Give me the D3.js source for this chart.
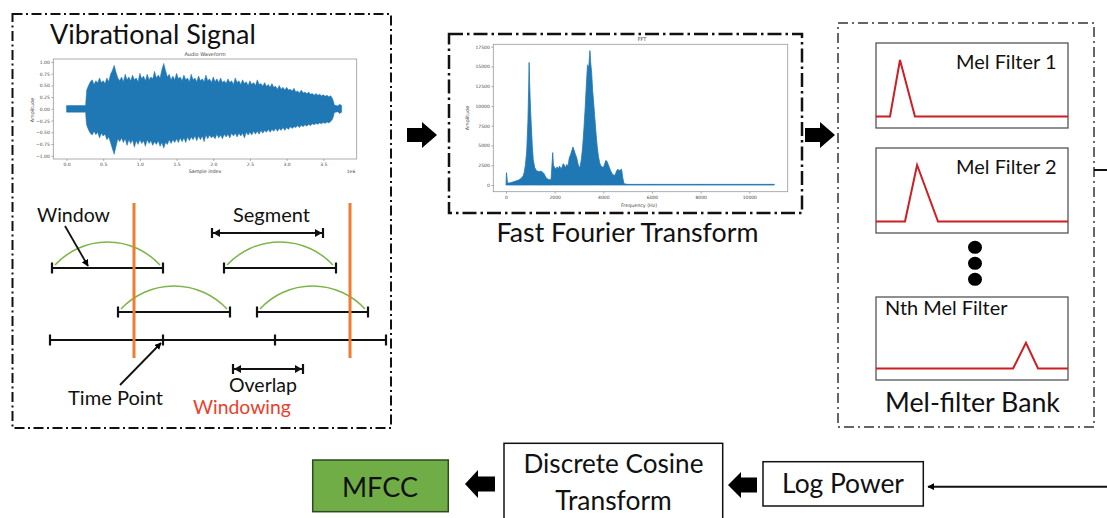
<!DOCTYPE html>
<html><head><meta charset="utf-8">
<script src="https://cdn.jsdelivr.net/npm/d3@7"></script>
<style>body{margin:0;background:#fff}svg{display:block}</style>
</head><body><svg id="c" width="1107" height="518"></svg>
<script>
// ---------------- data ----------------
// waveform envelope (sample index in 1e6 units, amplitude)
const waveLeadX = [0,0.26,0.27];
const waveLeadUpper = [0.07,0.07,0.30];
const waveLeadLower = [-0.07,-0.07,-0.30];
const waveBodyStart = 0.275, waveBodyStep = 0.025;
const waveBodyUpper = [
0.40,0.50,0.58,0.62,0.52,0.60,0.55,0.66,0.56,0.60,
0.54,0.66,0.58,0.74,0.82,0.93,0.78,0.66,0.60,0.68,
0.58,0.74,0.62,0.68,0.60,0.72,0.62,0.66,0.58,0.76,
0.64,0.70,0.60,0.74,0.62,0.68,0.64,0.80,0.66,0.72,
0.66,0.84,0.97,0.82,0.68,0.74,0.62,0.70,0.62,0.76,
0.64,0.68,0.60,0.72,0.62,0.66,0.58,0.74,0.62,0.66,
0.58,0.70,0.60,0.64,0.58,0.72,0.60,0.64,0.56,0.68,
0.58,0.64,0.56,0.66,0.56,0.60,0.54,0.64,0.56,0.60,
0.52,0.66,0.56,0.60,0.52,0.62,0.54,0.58,0.50,0.60,
0.52,0.56,0.50,0.62,0.52,0.54,0.48,0.56,0.48,0.52,
0.46,0.54,0.46,0.48,0.42,0.50,0.42,0.46,0.40,0.46,
0.40,0.42,0.38,0.44,0.36,0.38,0.34,0.40,0.34,0.36,
0.32,0.36,0.31,0.33,0.29,0.33,0.29,0.31,0.28,0.30,
0.27,0.29,0.26,0.28,0.22];
const waveBodyLower = [
-0.35,-0.45,-0.52,-0.56,-0.48,-0.55,-0.50,-0.62,-0.52,-0.58,
-0.54,-0.66,-0.60,-0.72,-0.85,-0.97,-0.80,-0.64,-0.70,-0.62,
-0.72,-0.64,-0.78,-0.66,-0.74,-0.66,-0.82,-0.68,-0.76,-0.66,
-0.74,-0.68,-0.80,-0.66,-0.74,-0.68,-0.78,-0.70,-0.76,-0.68,
-0.80,-0.72,-0.84,-0.72,-0.76,-0.66,-0.74,-0.66,-0.72,-0.64,
-0.72,-0.62,-0.70,-0.62,-0.72,-0.60,-0.68,-0.60,-0.66,-0.58,
-0.68,-0.58,-0.66,-0.58,-0.70,-0.56,-0.64,-0.56,-0.62,-0.58,
-0.64,-0.54,-0.62,-0.56,-0.64,-0.54,-0.60,-0.54,-0.62,-0.52,
-0.58,-0.52,-0.60,-0.52,-0.58,-0.52,-0.62,-0.50,-0.56,-0.50,
-0.56,-0.48,-0.54,-0.48,-0.54,-0.46,-0.52,-0.46,-0.50,-0.44,
-0.50,-0.44,-0.48,-0.42,-0.48,-0.42,-0.46,-0.40,-0.46,-0.40,
-0.44,-0.38,-0.42,-0.38,-0.40,-0.36,-0.40,-0.35,-0.38,-0.34,
-0.37,-0.33,-0.36,-0.32,-0.34,-0.31,-0.33,-0.30,-0.32,-0.29,
-0.31,-0.28,-0.30,-0.27,-0.22];
const waveTailX = [3.64,3.65,3.70,3.72,3.75];
const waveTailUpper = [0.15,0.08,0.06,0.10,0.07];
const waveTailLower = [-0.15,-0.08,-0.06,-0.10,-0.07];
const waveXTicks = [0,0.5,1.0,1.5,2.0,2.5,3.0,3.5];
const waveYTicks = [-1,-0.75,-0.5,-0.25,0,0.25,0.5,0.75,1];

const fftFreq = [0,20,60,100,200,300,400,500,600,700,750,800,850,900,930,950,970,990,1010,1040,1080,1120,1180,1250,1350,1450,1550,1650,1750,1850,1900,1920,1950,2000,2050,2100,2150,2200,2250,2300,2350,2400,2450,2500,2550,2600,2650,2700,2750,2800,2850,2900,2950,3000,3050,3100,3150,3200,3250,3300,3350,3400,3450,3480,3520,3560,3600,3650,3700,3750,3800,3850,3900,3950,4000,4050,4100,4150,4200,4250,4300,4350,4400,4450,4500,4550,4600,4650,4700,4750,4800,4850,5000,11025];
const fftAmp = [0,1550,300,250,300,400,500,600,800,1100,1600,2600,4200,8000,12000,15500,13000,11200,9500,7500,5000,3200,2200,1800,1700,1750,1500,900,700,650,3000,4100,2500,2200,2000,2300,2000,2400,2100,2200,2700,2500,2200,2600,2400,3400,3800,4300,4800,4400,3900,3500,2800,2200,2400,3300,4800,7000,9500,12500,15200,14800,17000,15500,14200,12000,10500,8500,6500,4800,3600,2800,2400,2300,2200,2600,3100,3000,2600,2200,1800,1500,1300,1200,1400,1800,2000,1800,1900,2000,900,150,80,80];
const fftXTicks = [0,2000,4000,6000,8000,10000];
const fftYTicks = [0,2500,5000,7500,10000,12500,15000,17500];

const melNames = ["Mel Filter 1","Mel Filter 2","Nth Mel Filter"];
const melStart = [7.3,15.1,71.4];
const melPeak = [12.5,21.4,78.1];
const melEnd = [20.3,32.3,84.4];
const melHeight = [1,1,0.47];

const titles = ["Vibrational Signal","Fast Fourier Transform","Mel-filter Bank"];
const windowLabels = ["Window","Segment","Overlap","Time Point","Windowing"];
const pipeline = ["MFCC","Discrete Cosine","Transform","Log Power"];

// ---------------- drawing ----------------
const svg = d3.select("#c");
const FONT = "Lato, 'Open Sans', sans-serif";
const BLUE = "#1f77b4";

svg.append("defs").append("marker").attr("id","ah").attr("viewBox","0 0 10 10")
  .attr("refX",9).attr("refY",5).attr("markerWidth",7).attr("markerHeight",7)
  .attr("markerUnits","userSpaceOnUse").attr("orient","auto")
  .append("path").attr("d","M0,0 L10,5 L0,10 Z").attr("fill","#000");

function txt(x,y,s,w,opts={}){
  const t = svg.append("text").attr("x",x).attr("y",y).text(s)
    .attr("font-family",opts.family||FONT).attr("font-size",20)
    .attr("fill",opts.fill||"#111").attr("text-anchor",opts.anchor||"start");
  const m = t.node().getComputedTextLength();
  t.attr("font-size", 20*w/m);
  return t;
}
function dashBox(x,y,w,h,da,sw,col){
  svg.append("rect").attr("x",x).attr("y",y).attr("width",w).attr("height",h)
    .attr("fill","none").attr("stroke",col).attr("stroke-width",sw).attr("stroke-dasharray",da);
}
function blockArrow(tail,tip,cy,headLen,headHalf,shaftHalf){
  const d = tip>tail?1:-1;
  const hb = tip - d*headLen;
  const p = [[tail,cy-shaftHalf],[hb,cy-shaftHalf],[hb,cy-headHalf],[tip,cy],[hb,cy+headHalf],[hb,cy+shaftHalf],[tail,cy+shaftHalf]];
  svg.append("path").attr("d","M"+p.map(q=>q.join(",")).join("L")+"Z").attr("fill","#000");
}

// outer dash-dot boxes
dashBox(12.5,14,378.5,414,"10,3.5,2,3.5",2,"#111");
dashBox(449,34,353,179,"14,4,2.5,4",2.5,"#111");
dashBox(838,23,256,404,"10,4,2,4",1.5,"#333");

// titles
txt(50,43.5,titles[0],206);
txt(627.5,241.5,titles[1],262,{anchor:"middle"});
txt(972.5,411.5,titles[2],175,{anchor:"middle"});

// ---------- waveform ----------
const wavePts = [];
waveLeadX.forEach((x,i)=>wavePts.push({x,u:waveLeadUpper[i],l:waveLeadLower[i]}));
d3.zip(waveBodyUpper,waveBodyLower).forEach(([u,l],i)=>wavePts.push({x:waveBodyStart+i*waveBodyStep,u,l}));
waveTailX.forEach((x,i)=>wavePts.push({x,u:waveTailUpper[i],l:waveTailLower[i]}));

const wx = d3.scaleLinear().domain([-0.18,3.955]).range([53.3,356.7]);
const wy = d3.scaleLinear().domain([-1.07,1.064]).range([159,59]);
const wg = svg.append("g");
wg.append("path").datum(wavePts)
  .attr("d",d3.area().x(d=>wx(d.x)).y0(d=>wy(d.l)).y1(d=>wy(d.u)))
  .attr("fill",BLUE).attr("stroke",BLUE).attr("stroke-width",0.5);
wg.append("rect").attr("x",53.3).attr("y",59).attr("width",303.4).attr("height",100)
  .attr("fill","none").attr("stroke","#999").attr("stroke-width",0.8);
const wax = wg.append("g").attr("transform","translate(0,159)")
  .call(d3.axisBottom(wx).tickValues(waveXTicks).tickFormat(d3.format(".1f")).tickSize(2).tickPadding(2));
const way = wg.append("g").attr("transform","translate(53.3,0)")
  .call(d3.axisLeft(wy).tickValues(waveYTicks).tickFormat(d3.format(".2f")).tickSize(2).tickPadding(1.5));
[wax,way].forEach(a=>{a.select(".domain").remove();a.selectAll("text").attr("font-size",4.5).attr("fill","#444").attr("font-family","DejaVu Sans");a.selectAll("line").attr("stroke","#666").attr("stroke-width",0.5);});
wg.append("text").attr("x",205).attr("y",56).attr("text-anchor","middle").attr("font-size",5).attr("font-family","DejaVu Sans").attr("fill","#444").text("Audio Waveform");
wg.append("text").attr("x",205).attr("y",172.5).attr("text-anchor","middle").attr("font-size",4.8).attr("font-family","DejaVu Sans").attr("fill","#444").text("Sample index");
wg.append("text").attr("x",351).attr("y",172.5).attr("text-anchor","middle").attr("font-size",4.5).attr("font-family","DejaVu Sans").attr("fill","#444").text("1e6");
wg.append("text").attr("transform","translate(33.5,110) rotate(-90)").attr("text-anchor","middle").attr("font-size",4.8).attr("font-family","DejaVu Sans").attr("fill","#444").text("Amplitude");

// ---------- windowing diagram ----------
const wd = svg.append("g").attr("stroke","#111").attr("fill","none");
function seg(x1,x2,y){
  wd.append("line").attr("x1",x1).attr("x2",x2).attr("y1",y).attr("y2",y).attr("stroke-width",2.2);
}
function bar(x,y,h){ wd.append("line").attr("x1",x).attr("x2",x).attr("y1",y-h).attr("y2",y+h).attr("stroke-width",2.2); }
function arc(x1,x2,y,s){
  const c=x2-x1, R=(c*c/4+s*s)/(2*s);
  svg.append("path").attr("d",`M${x1},${y} A${R},${R} 0 0 1 ${x2},${y}`)
    .attr("fill","none").attr("stroke","#7db54a").attr("stroke-width",1.5);
}
const rowWins = [[52,163,268],[224,336,268],[118,230,312],[257,368,312]];
rowWins.forEach(([a,b,y])=>{ arc(a+3,b-3,y-3,23); seg(a,b,y); bar(a,y,5.5); bar(b,y,5.5); });
seg(50,386,340); [50,163,275,386].forEach(x=>bar(x,340,5.5));
function dbl(x1,x2,y){
  seg(x1,x2,y); bar(x1,y,5); bar(x2,y,5);
  svg.append("path").attr("d",`M${x1+1},${y} l7,-4 l0,8 Z`).attr("fill","#111");
  svg.append("path").attr("d",`M${x2-1},${y} l-7,-4 l0,8 Z`).attr("fill","#111");
}
dbl(212,323,233);
dbl(233,303,369);
[134,350].forEach(x=>svg.append("line").attr("x1",x).attr("x2",x).attr("y1",203).attr("y2",358).attr("stroke","#ed7d31").attr("stroke-width",3));
svg.append("line").attr("x1",65).attr("y1",226).attr("x2",88).attr("y2",266).attr("stroke","#111").attr("stroke-width",1.8).attr("marker-end","url(#ah)");
svg.append("line").attr("x1",120).attr("y1",385).attr("x2",161).attr("y2",343).attr("stroke","#111").attr("stroke-width",1.8).attr("marker-end","url(#ah)");
txt(37,222,windowLabels[0],73);
txt(233,222,windowLabels[1],77);
txt(229,391.5,windowLabels[2],68);
txt(68,405,windowLabels[3],95);
txt(193,413.5,windowLabels[4],98,{fill:"#e8412c"});

// ---------- FFT ----------
const fx = d3.scaleLinear().domain([-522,11578]).range([493.3,787.7]);
const fy = d3.scaleLinear().domain([-848,17800]).range([191.7,44.3]);
const fg = svg.append("g");
fg.append("path").datum(fftFreq.map((f,i)=>({f,a:fftAmp[i]})))
  .attr("d",d3.area().x(d=>fx(d.f)).y0(fy(0)).y1(d=>fy(d.a)))
  .attr("fill",BLUE).attr("stroke",BLUE).attr("stroke-width",0.8);
fg.append("rect").attr("x",493.3).attr("y",44.3).attr("width",294.4).attr("height",147.4)
  .attr("fill","none").attr("stroke","#999").attr("stroke-width",0.8);
const fax = fg.append("g").attr("transform","translate(0,191.7)")
  .call(d3.axisBottom(fx).tickValues(fftXTicks).tickFormat(d3.format("d")).tickSize(2).tickPadding(2));
const fay = fg.append("g").attr("transform","translate(493.3,0)")
  .call(d3.axisLeft(fy).tickValues(fftYTicks).tickFormat(d3.format("d")).tickSize(2).tickPadding(1.5));
[fax,fay].forEach(a=>{a.select(".domain").remove();a.selectAll("text").attr("font-size",4.5).attr("fill","#444").attr("font-family","DejaVu Sans");a.selectAll("line").attr("stroke","#666").attr("stroke-width",0.5);});
fg.append("text").attr("x",642).attr("y",41).attr("text-anchor","middle").attr("font-size",5).attr("font-family","DejaVu Sans").attr("fill","#444").text("FFT");
fg.append("text").attr("x",639).attr("y",206.5).attr("text-anchor","middle").attr("font-size",4.8).attr("font-family","DejaVu Sans").attr("fill","#444").text("Frequency (Hz)");
fg.append("text").attr("transform","translate(468.5,118) rotate(-90)").attr("text-anchor","middle").attr("font-size",4.8).attr("font-family","DejaVu Sans").attr("fill","#444").text("Amplitude");

// ---------- Mel filters ----------
const melBoxes = [[43,128],[148,233],[297,380]];
const mx = d3.scaleLinear().domain([0,100]).range([876,1068]);
melBoxes.forEach(([t,b],i)=>{
  svg.append("rect").attr("x",876).attr("y",t).attr("width",192).attr("height",b-t)
    .attr("fill","none").attr("stroke","#555").attr("stroke-width",1.3);
  const base = b-11.5, top = t+17;
  const my = d3.scaleLinear().domain([0,1]).range([base,top]);
  const pts = [[0,0],[melStart[i],0],[melPeak[i],melHeight[i]],[melEnd[i],0],[100,0]];
  svg.append("path").attr("d",d3.line().x(d=>mx(d[0])).y(d=>my(d[1]))(pts))
    .attr("fill","none").attr("stroke","#cc1f24").attr("stroke-width",2);
});
txt(1056.5,68.5,melNames[0],100.5,{anchor:"end"});
txt(1056.5,173.5,melNames[1],100.5,{anchor:"end"});
txt(885,315,melNames[2],122.5);
[247.3,263.3,279.3].forEach(y=>svg.append("ellipse").attr("cx",975).attr("cy",y).attr("rx",7).attr("ry",6.5).attr("fill","#000"));

blockArrow(407,437,135,15,13,7);
blockArrow(805,835,135,15,13,7);
svg.append("line").attr("x1",1094).attr("x2",1107).attr("y1",170).attr("y2",170).attr("stroke","#111").attr("stroke-width",2);

// ---------- bottom pipeline ----------
svg.append("rect").attr("x",312.7).attr("y",460).attr("width",135.6).attr("height",51.7)
  .attr("fill","#70ad47").attr("stroke","#2e4a1e").attr("stroke-width",1.5);
txt(380,497,pipeline[0],76,{anchor:"middle"});
blockArrow(495,465,484,13,14,7.5);
svg.append("rect").attr("x",504).attr("y",443.3).attr("width",218.7).attr("height",90)
  .attr("fill","#fff").attr("stroke","#111").attr("stroke-width",1.5);
txt(613.5,473,pipeline[1],180,{anchor:"middle"});
txt(613.5,510,pipeline[2],116.5,{anchor:"middle"});
blockArrow(757,728,485,13,13,7.5);
svg.append("rect").attr("x",763).attr("y",461.7).attr("width",160.3).attr("height",44.3)
  .attr("fill","#fff").attr("stroke","#111").attr("stroke-width",1.5);
txt(843,493,pipeline[3],122,{anchor:"middle"});
svg.append("line").attr("x1",1107).attr("x2",928).attr("y1",486.7).attr("y2",486.7)
  .attr("stroke","#111").attr("stroke-width",2).attr("marker-end","url(#ah)");
</script></body></html>
